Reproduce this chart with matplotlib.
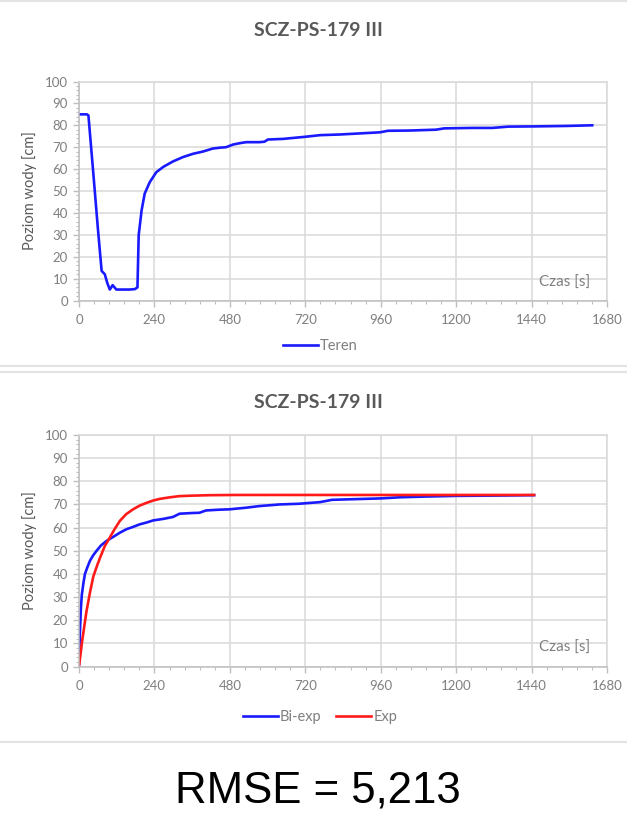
import matplotlib
matplotlib.use('Agg')
import matplotlib.pyplot as plt
from matplotlib.lines import Line2D

plt.rcParams['font.family'] = ['Lato', 'DejaVu Sans']

# ---- data ----
title = 'SCZ-PS-179 III'

teren_t = [0, 25, 30, 45, 60, 72, 82, 90, 98, 107, 119, 140, 160, 178, 186,
           190, 195, 199, 209, 225, 246, 268, 299, 331, 363, 394, 426, 450,
           468, 490, 510, 532, 574, 590, 601, 650, 716, 767, 830, 894, 958,
           983, 1050, 1136, 1162, 1250, 1315, 1366, 1450, 1550, 1633]
teren_y = [85, 85, 84.5, 59, 33, 13.5, 12, 8, 5, 7, 5, 5, 5, 5.2, 6,
           30, 36, 41, 48.8, 54, 58.6, 61, 63.5, 65.5, 67, 68, 69.4, 69.8,
           70, 71.2, 71.8, 72.3, 72.3, 72.5, 73.5, 73.8, 74.7, 75.5, 75.8, 76.3, 76.8,
           77.5, 77.6, 78, 78.6, 78.8, 78.8, 79.4, 79.5, 79.7, 80]

biexp_t = [0, 3, 6, 9, 14, 19, 27, 35, 45, 56, 70, 88, 109, 130, 151, 170,
           193, 215, 236, 270, 299, 320, 360, 383, 404, 440, 479, 532, 574,
           639, 700, 767, 805, 880, 958, 1022, 1100, 1200, 1300, 1448]
biexp_y = [1, 15, 25, 31, 36, 40, 43, 45.7, 48, 50, 52.3, 54.3, 56, 57.8, 59.3, 60.2,
           61.4, 62.2, 63.1, 63.8, 64.6, 66, 66.3, 66.4, 67.4, 67.7, 67.9, 68.6, 69.3,
           70, 70.3, 71.0, 72, 72.3, 72.6, 73.1, 73.4, 73.7, 73.8, 74.0]

exp_t = [0, 10, 24, 35, 45, 56, 67, 82, 98, 114, 130, 150, 172, 193, 215,
         236, 257, 290, 320, 360, 415, 500, 700, 1000, 1448]
exp_y = [0, 11, 24, 32, 38.6, 43, 47, 52, 55.7, 59.5, 62.9, 65.8, 67.9, 69.5, 70.7,
         71.7, 72.4, 73.1, 73.6, 73.8, 74, 74.1, 74.1, 74.1, 74.1]

x_ticks = [0, 240, 480, 720, 960, 1200, 1440, 1680]
y_ticks = list(range(0, 101, 10))
rmse_text = 'RMSE = 5,213'

TXT = '#595959'
TICK = '#7f7f7f'
GRID = '#d9d9d9'
AXLINE = '#bfbfbf'
W, H = 627, 826


def style(ax):
    ax.set_xlim(0, 1680)
    ax.set_ylim(0, 100)
    ax.set_xticks(x_ticks)
    ax.set_yticks(y_ticks)
    ax.set_xticks(range(0, 1681, 48), minor=True)
    ax.set_yticks(range(0, 101, 2), minor=True)
    ax.grid(True, which='major', color=GRID, linewidth=1.1)
    ax.set_axisbelow(True)
    for s in ['top', 'right']:
        ax.spines[s].set_color(GRID)
        ax.spines[s].set_linewidth(1.1)
    for s in ['left', 'bottom']:
        ax.spines[s].set_color(AXLINE)
        ax.spines[s].set_linewidth(1.1)
    ax.tick_params(which='both', colors=AXLINE, labelcolor=TICK, labelsize=9.5)
    ax.tick_params(which='major', length=4, width=1)
    ax.tick_params(which='minor', length=2.5, width=0.8)
    ax.tick_params(axis='x', which='major', pad=6)
    ax.tick_params(axis='y', which='major', pad=4)
    ax.set_ylabel('Poziom wody [cm]', color=TXT, fontsize=10.5, labelpad=6)
    ax.text(1625, 8, 'Czas [s]', color=TICK, fontsize=11,
            ha='right', va='center')


fig = plt.figure(figsize=(W / 100, H / 100), dpi=100)

# ---- top chart ----
ax1 = fig.add_axes([79 / W, 1 - 300.5 / H, 528 / W, 219 / H])
ax1.plot(teren_t, teren_y, color='#1a1aff', linewidth=1.9, label='Teren')
style(ax1)
fig.text(318 / W, 1 - 30 / H, title, ha='center', va='center',
         fontsize=14, fontweight='bold', color=TXT)
ax1.legend(loc='center', bbox_to_anchor=(320 / W, 1 - 346 / H),
           bbox_transform=fig.transFigure, frameon=False, fontsize=10.5,
           handlelength=2.4, handletextpad=0.15, labelcolor=TICK)

# ---- bottom chart ----
ax2 = fig.add_axes([79 / W, 1 - 666.5 / H, 528 / W, 231.5 / H])
ax2.plot(biexp_t, biexp_y, color='#1a1aff', linewidth=1.9, label='Bi-exp')
ax2.plot(exp_t, exp_y, color='#ff1a1a', linewidth=1.9, label='Exp')
style(ax2)
fig.text(318 / W, 1 - 403 / H, title, ha='center', va='center',
         fontsize=14, fontweight='bold', color=TXT)
ax2.legend(loc='center', bbox_to_anchor=(320 / W, 1 - 717 / H),
           bbox_transform=fig.transFigure, frameon=False, fontsize=10.5, ncol=2,
           handlelength=2.4, handletextpad=0.15, columnspacing=1.0,
           labelcolor=TICK)

# panel separators
for yy in [1, 366, 372, 742]:
    fig.add_artist(Line2D([0, 1], [1 - yy / H, 1 - yy / H],
                          transform=fig.transFigure, color='#e3e3e3', linewidth=1.5))

fig.text(318 / W, 1 - 791 / H, rmse_text, ha='center', va='center',
         fontsize=31.5, family='Liberation Sans', color='black')

fig.savefig('out.png', dpi=100)
